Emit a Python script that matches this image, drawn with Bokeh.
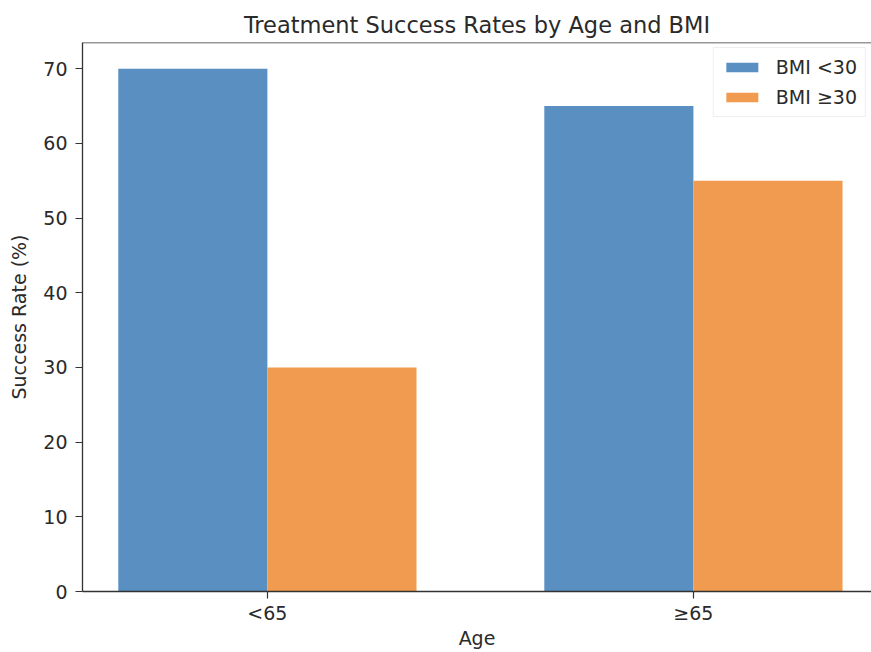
from bokeh.plotting import figure
from bokeh.models import ColumnDataSource, Span, Range1d, FixedTicker, Legend, LegendItem
from bokeh.embed import file_html
from bokeh.resources import INLINE

# Data
age_groups = ["<65", "≥65"]
bmi_under30 = [70, 65]
bmi_over30 = [30, 55]
series_labels = ["BMI <30", "BMI ≥30"]
y_ticks = [0, 10, 20, 30, 40, 50, 60, 70]

FONT = "DejaVu Sans"
TXT = "#2a2a2a"
bar_w = 0.35
pos = list(range(len(age_groups)))

src = ColumnDataSource(dict(
    x1=[p - bar_w / 2 for p in pos],
    x2=[p + bar_w / 2 for p in pos],
    a=bmi_under30,
    b=bmi_over30,
))

p = figure(width=871, height=651, output_backend="svg", toolbar_location=None,
           x_range=Range1d(-0.434, 1.418), y_range=Range1d(0, 73.5),
           min_border_left=82, min_border_right=0, min_border_top=42, min_border_bottom=60)

r1 = p.vbar(x="x1", top="a", width=bar_w, source=src, fill_color="#5A8FC2", line_color=None)
r2 = p.vbar(x="x2", top="b", width=bar_w, source=src, fill_color="#F09B4F", line_color=None)

p.title.text = "Treatment Success Rates by Age and BMI"
p.title.align = "center"
p.title.text_font = FONT
p.title.text_font_size = "22.5px"
p.title.text_font_style = "normal"
p.title.text_color = TXT

p.grid.visible = False
p.outline_line_color = None
p.background_fill_color = "white"

p.add_layout(Span(location=73.5, dimension="width", line_color="#333333", line_width=1.5))

for ax in (p.xaxis[0], p.yaxis[0]):
    ax.axis_line_color = "#333333"
    ax.axis_line_width = 1.3
    ax.major_tick_line_color = "#333333"
    ax.major_tick_line_width = 1.2
    ax.major_tick_out = 7
    ax.major_tick_in = 0
    ax.minor_tick_line_color = None
    ax.major_label_text_font = FONT
    ax.major_label_text_font_size = "19px"
    ax.major_label_text_color = TXT
    ax.axis_label_text_font = FONT
    ax.axis_label_text_font_size = "19px"
    ax.axis_label_text_font_style = "normal"
    ax.axis_label_text_color = TXT

p.xaxis.ticker = FixedTicker(ticks=pos)
p.xaxis.major_label_overrides = {i: lab for i, lab in enumerate(age_groups)}
p.xaxis.axis_label = "Age"
p.xaxis.major_label_standoff = 3
p.xaxis.axis_label_standoff = 0

p.yaxis.ticker = FixedTicker(ticks=y_ticks)
p.yaxis.axis_label = "Success Rate (%)"
p.yaxis.major_label_standoff = 8
p.yaxis.axis_label_standoff = 10

legend = Legend(items=[LegendItem(label=series_labels[0], renderers=[r1]),
                       LegendItem(label=series_labels[1], renderers=[r2])],
                location="top_right")
legend.margin = 5
legend.padding = 8
legend.spacing = 8
legend.glyph_width = 40
legend.glyph_height = 12
legend.label_standoff = 14
legend.label_text_font = FONT
legend.label_text_font_size = "19px"
legend.label_text_color = TXT
legend.border_line_color = "#dddddd"
legend.border_line_width = 1
legend.background_fill_alpha = 0.8
p.add_layout(legend)

open("out.html", "w").write(file_html(p, INLINE))
